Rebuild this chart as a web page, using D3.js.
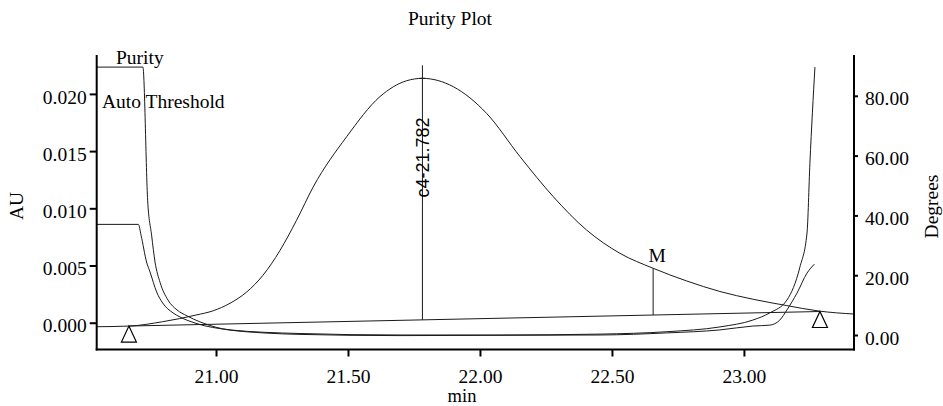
<!DOCTYPE html>
<html lang="en">
<head>
  <meta charset="utf-8">
  <title>Purity Plot</title>
  <script src="https://d3js.org/d3.v7.min.js"></script>
  <style>
    body {
      margin: 0;
      padding: 0;
      background-color: #fff;
    }
    svg text {
      font-family: "Liberation Serif", "Times New Roman", serif;
      font-size: 19.5px;
      fill: #000;
    }
    .axis .domain { display: none; }
    .axis line { stroke: #000; stroke-width: 2; }
    .trace { fill: none; stroke: #1a1a1a; stroke-width: 1; }
  </style>
</head>
<body>
  <svg id="chart" width="943" height="406"></svg>

  <script>
    // chromatogram (AU vs min)
    const chromTime = [20.548, 20.672, 20.798, 20.924, 20.990, 21.053, 21.116, 21.178, 21.242, 21.305, 21.368, 21.495, 21.621, 21.722, 21.782,
                       21.899, 22.025, 22.152, 22.278, 22.404, 22.530, 22.656, 22.783, 22.909, 23.035, 23.162, 23.284, 23.417];
    const chromAU = [-0.00035, -0.00029, 0.00009, 0.00067, 0.00105, 0.00170, 0.00268, 0.00415, 0.00630, 0.00895, 0.01186, 0.01626, 0.01976, 0.02115, 0.02136,
                     0.02063, 0.01830, 0.01451, 0.01101, 0.00810, 0.00607, 0.00476, 0.00365, 0.00273, 0.00205, 0.00150, 0.00102, 0.00076];

    // purity angle (Degrees)
    const purityTime = [20.548, 20.723, 20.741, 20.756, 20.769, 20.788, 20.818, 20.852, 20.890, 20.939, 21.053, 21.318,
                        21.697, 22.076, 22.455, 22.708, 22.909, 23.034, 23.098, 23.163, 23.212, 23.239, 23.250, 23.269];
    const purityDeg = [89.6, 89.6, 45.1, 33.4, 24.4, 17.6, 11.7, 8.4, 6.4, 4.4, 1.7, 0.5,
                       0.0, 0.0, 0.3, 1.1, 2.7, 5.0, 7.4, 11.7, 22.7, 34.1, 57.5, 89.6];

    // auto threshold (Degrees)
    const thresholdTime = [20.548, 20.706, 20.716, 20.737, 20.750, 20.775, 20.798, 20.837, 20.864, 20.924, 21.049, 21.178,
                           21.318, 21.697, 22.076, 22.455, 22.708, 22.909, 23.034, 23.098, 23.136, 23.163, 23.201, 23.239, 23.267];
    const thresholdDeg = [37.0, 37.0, 33.4, 24.4, 21.1, 14.4, 10.7, 7.4, 6.0, 3.9, 1.7, 0.7,
                          0.2, -0.2, -0.1, 0.0, 0.7, 1.7, 3.0, 3.3, 5.0, 8.4, 14.0, 20.7, 23.7];

    // integration baseline (between the two triangles)
    const baseTime = [20.670, 23.288];
    const baseAU = [-0.00029, 0.00098];

    // peak + M markers
    const peakTime = 21.782;
    const peakApexAU = 0.02136;
    const peakLineTopAU = 0.0225;
    const peakLabel = "c4-21.782";
    const mTime = 22.656;
    const mAU = 0.00476;

    const xTicks = [21.0, 21.5, 22.0, 22.5, 23.0];
    const auTicks = [0.000, 0.005, 0.010, 0.015, 0.020];
    const degTicks = [0, 20, 40, 60, 80];

    const plotLeft = 96.7, plotRight = 854, plotTop = 55, plotBottom = 349.5;

    const svg = d3.select("#chart");

    const x = d3.scaleLinear().domain([20.548, 23.417]).range([plotLeft, plotRight]);
    const yAU = d3.scaleLinear().domain([-0.00234, 0.0234]).range([plotBottom, plotTop]);
    const yDeg = d3.scaleLinear().domain([-4.85, 93.65]).range([plotBottom, plotTop]);

    // baseline value at time t (linear between triangles)
    const baseAt = t => baseAU[0] + (t - baseTime[0]) / (baseTime[1] - baseTime[0]) * (baseAU[1] - baseAU[0]);

    const plot = svg.append("g");

    const auLine = d3.line().curve(d3.curveMonotoneX).x(d => x(d[0])).y(d => yAU(d[1]));
    const degLine = d3.line().curve(d3.curveMonotoneX).x(d => x(d[0])).y(d => yDeg(d[1]));

    plot.append("path").attr("class", "trace")
      .attr("d", auLine(d3.zip(chromTime, chromAU)));
    plot.append("path").attr("class", "trace")
      .attr("d", degLine(d3.zip(purityTime, purityDeg)));
    plot.append("path").attr("class", "trace")
      .attr("d", degLine(d3.zip(thresholdTime, thresholdDeg)));
    plot.append("path").attr("class", "trace")
      .attr("d", d3.line().x(d => x(d[0])).y(d => yAU(d[1]))(d3.zip(baseTime, baseAU)));

    // peak marker
    plot.append("line").attr("class", "trace")
      .attr("x1", x(peakTime)).attr("x2", x(peakTime))
      .attr("y1", yAU(peakLineTopAU)).attr("y2", yAU(baseAt(peakTime)));
    plot.append("line").attr("class", "trace")
      .attr("x1", x(peakTime) - 3).attr("x2", x(peakTime) + 3)
      .attr("y1", yAU(peakApexAU)).attr("y2", yAU(peakApexAU));
    svg.append("text")
      .attr("transform", `translate(${x(peakTime) + 7},157.5) rotate(-90)`)
      .attr("text-anchor", "middle")
      .style("font-family", "'Liberation Sans', Arial, sans-serif")
      .style("font-size", "18px")
      .text(peakLabel);

    // M marker
    plot.append("line").attr("class", "trace")
      .attr("x1", x(mTime)).attr("x2", x(mTime))
      .attr("y1", yAU(mAU)).attr("y2", yAU(baseAt(mTime)));
    svg.append("text")
      .attr("x", x(mTime) + 4).attr("y", 262)
      .attr("text-anchor", "middle")
      .text("M");

    // baseline triangles
    plot.selectAll("path.tri")
      .data(d3.zip(baseTime, baseAU))
      .join("path")
      .attr("class", "tri")
      .attr("fill", "#fff").attr("stroke", "#000").attr("stroke-width", 1.2)
      .attr("d", d => {
        const px = x(d[0]), py = yAU(d[1]);
        return `M${px},${py}L${px + 7.5},${py + 16}L${px - 7.5},${py + 16}Z`;
      });

    // axes
    svg.append("g").attr("class", "axis")
      .attr("transform", `translate(${plotLeft},0)`)
      .call(d3.axisLeft(yAU).tickValues(auTicks).tickFormat(d3.format(".3f")).tickSize(7).tickPadding(3))
      .selectAll("text").attr("dy", "0.47em").style("font-size", "19.5px").style("font-family", "'Liberation Serif', serif");

    svg.append("g").attr("class", "axis")
      .attr("transform", `translate(${plotRight},0)`)
      .call(d3.axisRight(yDeg).tickValues(degTicks).tickFormat(d3.format(".2f")).tickSize(4).tickPadding(7))
      .selectAll("text").attr("dy", "0.47em").style("font-size", "19.5px").style("font-family", "'Liberation Serif', serif");

    svg.append("g").attr("class", "axis")
      .attr("transform", `translate(0,${plotBottom})`)
      .call(d3.axisBottom(x).tickValues(xTicks).tickFormat(d3.format(".2f")).tickSize(7).tickPadding(13))
      .selectAll("text").style("font-size", "19.5px").style("font-family", "'Liberation Serif', serif");

    // axis frame lines
    svg.append("line").attr("x1", plotLeft).attr("x2", plotLeft).attr("y1", plotTop).attr("y2", plotBottom + 1)
      .attr("stroke", "#000").attr("stroke-width", 2);
    svg.append("line").attr("x1", plotRight).attr("x2", plotRight).attr("y1", plotTop).attr("y2", plotBottom + 1)
      .attr("stroke", "#000").attr("stroke-width", 2);
    svg.append("line").attr("x1", plotLeft - 1).attr("x2", plotRight + 1).attr("y1", plotBottom).attr("y2", plotBottom)
      .attr("stroke", "#000").attr("stroke-width", 2);

    // titles and labels
    svg.append("text").attr("x", 450).attr("y", 25).attr("text-anchor", "middle").text("Purity Plot");
    svg.append("text").attr("x", 462).attr("y", 402).attr("text-anchor", "middle").style("font-size", "18.5px").text("min");
    svg.append("text").attr("transform", "translate(23,206) rotate(-90)").attr("text-anchor", "middle").text("AU");
    svg.append("text").attr("transform", "translate(938,206.5) rotate(-90)").attr("text-anchor", "middle").text("Degrees");
    svg.append("text").attr("x", 116).attr("y", 64).text("Purity");
    svg.append("text").attr("x", 102).attr("y", 108).text("Auto Threshold");
  </script>
</body>
</html>
